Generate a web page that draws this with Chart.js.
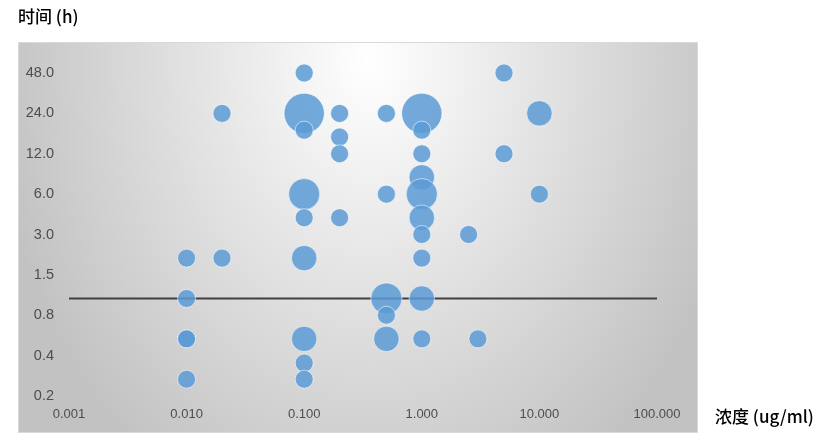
<!DOCTYPE html>
<html>
<head>
<meta charset="utf-8">
<script src="https://cdn.jsdelivr.net/npm/chart.js@4"></script>
<style>
    html, body { margin: 0; padding: 0; background: #fff; }
    #wrap { width: 831px; height: 441px; position: relative; }
</style>
</head>
<body>
<div id="wrap"><canvas id="bubbleChart"></canvas></div>
<script>
// 浓度 (ug/ml)
const concValues = [0.01, 0.01, 0.01, 0.01, 0.01, 0.02, 0.02,
    0.1, 0.1, 0.1, 0.1, 0.1, 0.1, 0.1, 0.1, 0.1,
    0.2, 0.2, 0.2, 0.2,
    0.5, 0.5, 0.5, 0.5, 0.5,
    1, 1, 1, 1, 1, 1, 1, 1, 1, 1,
    2.5, 3, 5, 5, 10, 10];
// 时间 (h)
const timeValues = [2, 1, 0.5, 0.5, 0.25, 24, 2,
    48, 24, 18, 6, 4, 2, 0.5, 0.33, 0.25,
    24, 16, 12, 4,
    24, 6, 1, 0.75, 0.5,
    24, 18, 12, 8, 6, 4, 3, 2, 1, 0.5,
    3, 0.5, 48, 12, 24, 6];
// bubble size (count)
const sizeValues = [1, 1, 1, 1, 1, 1, 1,
    1, 5, 1, 3, 1, 2, 2, 1, 1,
    1, 1, 1, 1,
    1, 1, 3, 1, 2,
    5, 1, 1, 2, 3, 2, 1, 1, 2, 1,
    1, 1, 1, 1, 2, 1];

const refLineX = [0.001, 100];
const refLineY = [1, 1];

const xTickValues = [0.001, 0.01, 0.1, 1, 10, 100];
const xTickLabels = ['0.001', '0.010', '0.100', '1.000', '10.000', '100.000'];
const yTickValues = [0.1875, 0.375, 0.75, 1.5, 3, 6, 12, 24, 48];
const yTickLabels = ['0.2', '0.4', '0.8', '1.5', '3.0', '6.0', '12.0', '24.0', '48.0'];

const yTitle = '时间 (h)';
const xTitle = '浓度 (ug/ml)';

const xTickFont = { family: "'Liberation Sans', Arial, sans-serif", size: 13 };
const yTickFont = { family: "'Liberation Sans', Arial, sans-serif", size: 14.5 };
const titleFont = "500 17px 'Noto Sans CJK SC', sans-serif";

// gray radial fill behind the chart, plus both axis titles
const backdropPlugin = {
    id: 'backdrop',
    beforeDraw(chart) {
        const ctx = chart.ctx;
        ctx.save();
        ctx.beginPath();
        ctx.rect(18, 42, 679, 390);
        ctx.clip();
        ctx.translate(370, 60);
        ctx.scale(1, 1.3);
        const g = ctx.createRadialGradient(0, 0, 0, 0, 0, 380);
        g.addColorStop(0, '#ffffff');
        g.addColorStop(1, '#c2c2c2');
        ctx.fillStyle = g;
        ctx.fillRect(-400, -100, 900, 400);
        ctx.restore();
        ctx.save();
        ctx.strokeStyle = '#d9d9d9';
        ctx.lineWidth = 1;
        ctx.strokeRect(18.5, 42.5, 679, 390);
        ctx.restore();
    },
    afterDraw(chart) {
        const ctx = chart.ctx;
        ctx.save();
        ctx.fillStyle = '#000';
        ctx.font = titleFont;
        ctx.textBaseline = 'middle';
        ctx.textAlign = 'left';
        ctx.fillText(yTitle, 18, 17);
        ctx.fillText(xTitle, 715, 417);
        ctx.restore();
    }
};

const bubbleData = concValues.map((x, i) => ({ x: x, y: timeValues[i], r: 9 * Math.sqrt(sizeValues[i]) }));
const lineData = refLineX.map((x, i) => ({ x: x, y: refLineY[i] }));

new Chart(document.getElementById('bubbleChart'), {
    type: 'bubble',
    data: {
        datasets: [
            {
                type: 'line',
                data: lineData,
                borderColor: '#404040',
                borderWidth: 2,
                pointRadius: 0,
                fill: false,
                order: 2
            },
            {
                type: 'bubble',
                data: bubbleData,
                backgroundColor: 'rgba(91, 155, 213, 0.85)',
                borderColor: 'rgba(255, 255, 255, 0.55)',
                borderWidth: 1,
                clip: false,
                order: 1
            }
        ]
    },
    options: {
        responsive: true,
        maintainAspectRatio: false,
        animation: false,
        layout: { padding: { left: 18, top: 73, right: 174, bottom: 9 } },
        plugins: {
            legend: { display: false },
            tooltip: { enabled: false }
        },
        scales: {
            x: {
                type: 'logarithmic',
                min: 0.001,
                max: 100,
                grid: { display: false, drawTicks: false },
                border: { display: false },
                afterBuildTicks: (scale) => { scale.ticks = xTickValues.map(v => ({ value: v })); },
                afterFit: (scale) => { scale.height = 36; },
                ticks: {
                    autoSkip: false,
                    maxRotation: 0,
                    padding: 11,
                    color: '#4d4d4d',
                    font: xTickFont,
                    callback: (value, index) => xTickLabels[index]
                }
            },
            y: {
                type: 'logarithmic',
                min: 0.1875,
                max: 48,
                grid: { display: false, drawTicks: false },
                border: { display: false },
                afterBuildTicks: (scale) => { scale.ticks = yTickValues.map(v => ({ value: v })); },
                afterFit: (scale) => { scale.width = 51; },
                ticks: {
                    autoSkip: false,
                    padding: 15,
                    color: '#4d4d4d',
                    font: yTickFont,
                    callback: (value, index) => yTickLabels[index]
                }
            }
        }
    },
    plugins: [backdropPlugin]
});
</script>
</body>
</html>
